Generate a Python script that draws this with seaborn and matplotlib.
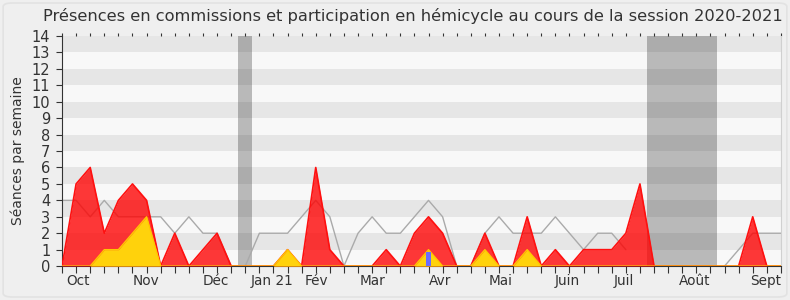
import numpy as np
import pandas as pd
import matplotlib
matplotlib.use("Agg")
import matplotlib.pyplot as plt
from matplotlib.patches import FancyBboxPatch
import seaborn as sns

# ---- data (weekly, 52 weeks of session 2020-2021) ----
weeks = list(range(52))
hemicycle = [0, 5, 6, 2, 4, 5, 4, 0, 2, 0, 1, 2, 0, 0, 0, 0, 1, 0, 6, 1,
             0, 0, 0, 1, 0, 2, 3, 2, 0, 0, 2, 0, 0, 3, 0, 1, 0, 1, 1, 1,
             2, 5, 0, 0, 0, 0, 0, 0, 0, 3, 0, 0]
commissions = [0, 0, 0, 1, 1, 2, 3, 0, 0, 0, 0, 0, 0, 0, 0, 0, 1, 0, 0, 0,
               0, 0, 0, 0, 0, 0, 1, 0, 0, 0, 1, 0, 0, 1, 0, 0, 0, 0, 0, 0,
               0, 0, 0, 0, 0, 0, 0, 0, 0, 0, 0, 0]
moyenne = [4, 4, 3, 4, 3, 3, 3, 3, 2, 3, 2, 2, 0, 0, 2, 2, 2, 3, 4, 3,
           0, 2, 3, 2, 2, 3, 4, 3, 0, 0, 2, 3, 2, 2, 2, 3, 2, 1, 2, 2,
           1, None, None, None, None, None, None, 0, 1, 2, 2, 2]
questions_week = [26]
questions_val = [0.85]
vacances = [(12.5, 13.5), (41.5, 46.5)]
month_labels = ["Oct", "Nov", "Déc", "Jan 21", "Fév", "Mar", "Avr", "Mai",
                "Juin", "Juil", "Août", "Sept"]
month_pos = [1.11, 5.93, 10.92, 14.87, 18.06, 22.06, 26.81, 31.13,
             35.86, 39.86, 44.89, 49.94]

df = pd.DataFrame({"semaine": weeks, "hemicycle": hemicycle,
                   "commissions": commissions,
                   "moyenne": pd.array(moyenne, dtype="Float64").astype(float)})

sns.set_theme(style="white")
plt.rcParams["font.family"] = ["DejaVu Sans"]

fig = plt.figure(figsize=(7.9, 3.0), dpi=100, facecolor="#efefef")
fig.patches.append(FancyBboxPatch((0.004, 0.01), 0.992, 0.98,
                                  boxstyle="round,pad=0,rounding_size=0.012",
                                  transform=fig.transFigure, facecolor="#efefef",
                                  edgecolor="#e2e2e2", linewidth=1.2, zorder=-10))
ax = fig.add_axes([0.0785, 0.113, 0.910, 0.767])
ax.set_facecolor("#f8f8f8")

# horizontal stripes
for k in range(1, 14, 2):
    ax.axhspan(k, k + 1, color="#e6e6e6", zorder=0, lw=0)

# vacation bands
for a, b in vacances:
    ax.axvspan(a, b, color="black", alpha=0.25, zorder=1, lw=0)

# average line (segments; gaps where missing)
ax.plot(df["semaine"], df["moyenne"], color="#aaaaaa", linewidth=1.0, zorder=2)

# hemicycle area
ax.fill_between(df["semaine"], df["hemicycle"], color="#ff0000", alpha=0.78,
                lw=0, zorder=3)
sns.lineplot(data=df, x="semaine", y="hemicycle", ax=ax, color="#ff1010",
             linewidth=1.2, zorder=4, legend=False)

# commissions area
ax.fill_between(df["semaine"], df["commissions"], color="#ffd20c",
                lw=0, zorder=5)
sns.lineplot(data=df, x="semaine", y="commissions", ax=ax, color="#ffc800",
             linewidth=1.0, zorder=6, legend=False)

# questions
ax.bar(questions_week, questions_val, width=0.3, color="#6b6bff", zorder=7,
       linewidth=0)

ax.set_xlim(0, 51)
ax.set_ylim(0, 14)
ax.set_yticks(range(0, 15))
ax.set_yticklabels([str(v) for v in range(0, 15)], fontsize=10.5, color="#333333")
ax.set_xticks(month_pos)
ax.set_xticklabels(month_labels, fontsize=9.8, color="#333333")
ax.set_xticks(weeks, minor=True)
ax.tick_params(axis="x", which="major", length=0, pad=6)
ax.tick_params(axis="x", which="minor", length=5, width=0.8, color="#333333",
               direction="out", bottom=True, top=False)
ax.tick_params(axis="y", which="major", length=4.5, width=0.8, color="#333333",
               direction="out", left=True, pad=4)
ax.set_xlabel("")
ax.set_ylabel("Séances par semaine", fontsize=10, color="#333333")
ax.yaxis.set_label_coords(-0.052, 0.5)

ax.spines["top"].set_visible(False)
ax.spines["right"].set_color("#d0d0d0")
ax.spines["right"].set_linewidth(0.8)
ax.spines["left"].set_color("#333333")
ax.spines["left"].set_linewidth(0.8)
ax.spines["bottom"].set_color("#333333")
ax.spines["bottom"].set_linewidth(0.8)

# small tick marks along the top
ax2 = ax.secondary_xaxis("top")
ax2.set_xticks(weeks)
ax2.set_xticklabels([])
ax2.tick_params(length=2, width=0.8, color="#333333", direction="out")
ax2.spines["top"].set_visible(False)

fig.text(0.522, 0.945, "Présences en commissions et participation en hémicycle au cours de la session 2020-2021",
         ha="center", va="center", fontsize=11.7, color="#333333")

fig.savefig("out.png", dpi=100, facecolor=fig.get_facecolor())
